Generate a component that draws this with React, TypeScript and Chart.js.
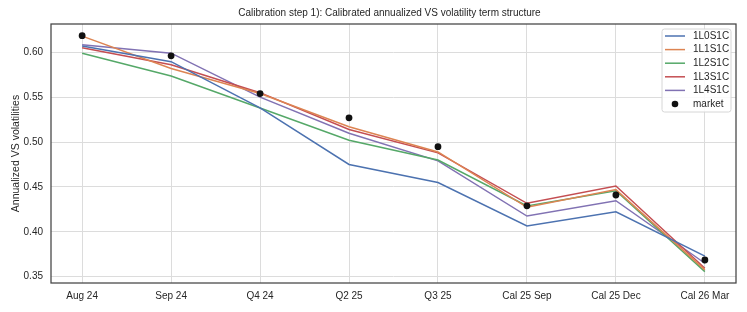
import React, { useEffect, useRef } from "react";
import { Chart, registerables } from "chart.js";

Chart.register(...registerables);

const categories = ["Aug 24", "Sep 24", "Q4 24", "Q2 25", "Q3 25", "Cal 25 Sep", "Cal 25 Dec", "Cal 26 Mar"];
const s1L0S1C = [0.607, 0.5895, 0.538, 0.475, 0.455, 0.4065, 0.4224, 0.373];
const s1L1S1C = [0.618, 0.582, 0.554, 0.517, 0.489, 0.4273, 0.447, 0.3576];
const s1L2S1C = [0.599, 0.5736, 0.538, 0.502, 0.48, 0.4288, 0.4458, 0.3557];
const s1L3S1C = [0.605, 0.586, 0.555, 0.514, 0.488, 0.4318, 0.451, 0.3595];
const s1L4S1C = [0.6085, 0.599, 0.55, 0.5098, 0.479, 0.4176, 0.4347, 0.365];
const market = [0.6185, 0.596, 0.554, 0.527, 0.4948, 0.429, 0.441, 0.3686];
const yTicks = [0.35, 0.4, 0.45, 0.5, 0.55, 0.6];

const seriesNames = ["1L0S1C", "1L1S1C", "1L2S1C", "1L3S1C", "1L4S1C"];
const seriesData = [s1L0S1C, s1L1S1C, s1L2S1C, s1L3S1C, s1L4S1C];
const colors = ["#4C72B0", "#DD8452", "#55A868", "#C44E52", "#8172B3"];

const FONT = "'Liberation Sans', Arial, sans-serif";
const TEXT = "#262626";

const decorPlugin = {
  id: "decor",
  afterDraw(chart: any) {
    const { ctx, chartArea } = chart;
    const { left, right, top, bottom } = chartArea;
    ctx.save();
    // axes border
    ctx.strokeStyle = "#444444";
    ctx.lineWidth = 1.25;
    ctx.strokeRect(left, top, right - left, bottom - top);
    // title
    ctx.fillStyle = TEXT;
    ctx.font = `10px ${FONT}`;
    ctx.textAlign = "center";
    ctx.textBaseline = "middle";
    ctx.fillText("Calibration step 1): Calibrated annualized VS volatility term structure", (left + right) / 2 - 4, 13);
    // y title
    ctx.save();
    ctx.translate(16, (top + bottom) / 2);
    ctx.rotate(-Math.PI / 2);
    ctx.font = `10.5px ${FONT}`;
    ctx.fillText("Annualized VS volatilities", 0, 0);
    ctx.restore();
    // legend
    const bx = 662, by = 29, bw = 69, bh = 83;
    const r = 2.5;
    ctx.beginPath();
    ctx.moveTo(bx + r, by);
    ctx.lineTo(bx + bw - r, by);
    ctx.quadraticCurveTo(bx + bw, by, bx + bw, by + r);
    ctx.lineTo(bx + bw, by + bh - r);
    ctx.quadraticCurveTo(bx + bw, by + bh, bx + bw - r, by + bh);
    ctx.lineTo(bx + r, by + bh);
    ctx.quadraticCurveTo(bx, by + bh, bx, by + bh - r);
    ctx.lineTo(bx, by + r);
    ctx.quadraticCurveTo(bx, by, bx + r, by);
    ctx.closePath();
    ctx.fillStyle = "rgba(255,255,255,0.85)";
    ctx.fill();
    ctx.strokeStyle = "#d6d6d6";
    ctx.lineWidth = 1;
    ctx.stroke();
    ctx.textAlign = "left";
    ctx.font = `10px ${FONT}`;
    const step = 13.6;
    seriesNames.forEach((n, i) => {
      const y = 36 + i * step;
      ctx.strokeStyle = colors[i];
      ctx.lineWidth = 1.5;
      ctx.beginPath();
      ctx.moveTo(665, y);
      ctx.lineTo(685, y);
      ctx.stroke();
      ctx.fillStyle = TEXT;
      ctx.fillText(n, 693, y);
    });
    const my = 36 + 5 * step;
    ctx.fillStyle = "#111111";
    ctx.beginPath();
    ctx.arc(675, my, 3.3, 0, Math.PI * 2);
    ctx.fill();
    ctx.fillStyle = TEXT;
    ctx.fillText("market", 693, my);
    ctx.restore();
  },
};

export default function App() {
  const ref = useRef<HTMLCanvasElement>(null);
  useEffect(() => {
    if (!ref.current) return;
    const datasets: any[] = seriesNames.map((n, i) => ({
      label: n,
      type: "line",
      data: seriesData[i].map((v, j) => ({ x: j, y: v })),
      borderColor: colors[i],
      backgroundColor: colors[i],
      borderWidth: 1.5,
      pointRadius: 0,
      tension: 0,
      order: 2,
    }));
    datasets.push({
      label: "market",
      type: "scatter",
      data: market.map((v, j) => ({ x: j, y: v })),
      backgroundColor: "#111111",
      borderColor: "#111111",
      pointRadius: 3.4,
      borderWidth: 0,
      order: 1,
    });
    const chart = new Chart(ref.current, {
      type: "line",
      data: { datasets },
      plugins: [decorPlugin],
      options: {
        animation: false,
        responsive: false,
        maintainAspectRatio: false,
        layout: { padding: { top: 24, right: 11, left: 0, bottom: 0 } },
        plugins: { legend: { display: false }, title: { display: false }, tooltip: { enabled: false } },
        scales: {
          x: {
            type: "linear",
            min: -0.35,
            max: 7.35,
            afterBuildTicks: (scale: any) => {
              scale.ticks = categories.map((_, i) => ({ value: i }));
            },
            afterFit: (scale: any) => {
              scale.height = 29;
            },
            ticks: {
              autoSkip: false,
              maxRotation: 0,
              padding: 7,
              color: TEXT,
              font: { family: FONT, size: 10 },
              callback: (v: any) => categories[v] ?? "",
            },
            grid: { color: "#dcdcdc", lineWidth: 1, drawTicks: false },
            border: { display: false },
          },
          y: {
            min: 0.343,
            max: 0.6315,
            afterBuildTicks: (scale: any) => {
              scale.ticks = yTicks.map((v) => ({ value: v }));
            },
            afterFit: (scale: any) => {
              scale.width = 51;
            },
            ticks: {
              padding: 8,
              color: TEXT,
              font: { family: FONT, size: 10 },
              callback: (v: any) => Number(v).toFixed(2),
            },
            grid: { color: "#dcdcdc", lineWidth: 1, drawTicks: false },
            border: { display: false },
          },
        },
      },
    });
    return () => chart.destroy();
  }, []);
  return (
    <div style={{ position: "fixed", left: 0, top: 0, width: 747, height: 312, background: "#fff" }}>
      <canvas ref={ref} width={747} height={312} style={{ width: 747, height: 312 }} />
    </div>
  );
}
